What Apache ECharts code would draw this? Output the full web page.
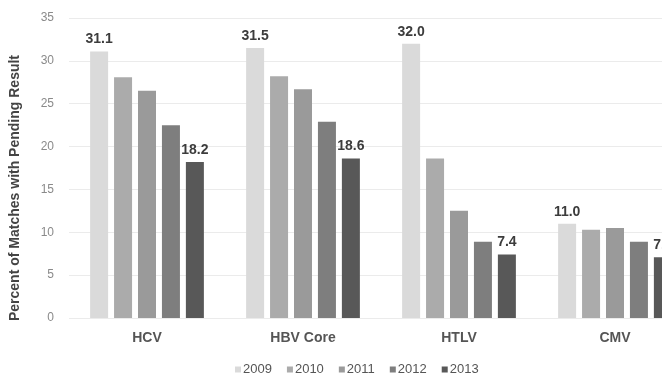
<!DOCTYPE html>
<html>
<head>
<meta charset="utf-8">
<script src="https://cdn.jsdelivr.net/npm/echarts@6/dist/echarts.min.js"></script>
<style>
html,body{margin:0;padding:0;background:#fff;overflow:hidden;width:662px;height:377px;}
#c{width:700px;height:377px;}
</style>
</head>
<body>
<div id="c"></div>
<script>
var categories = ['HCV', 'HBV Core', 'HTLV', 'CMV'];
var years = ['2009', '2010', '2011', '2012', '2013'];
var v2009 = [31.1, 31.5, 32.0, 11.0];
var v2010 = [28.1, 28.2, 18.6, 10.3];
var v2011 = [26.5, 26.7, 12.5, 10.5];
var v2012 = [22.5, 22.9, 8.9, 8.9];
var v2013 = [18.2, 18.6, 7.4, 7.1];
var yTicks = [0, 35, 5];
var yTitle = 'Percent of Matches with Pending Result';
var colors = ['#dadada', '#ababab', '#9a9a9a', '#7e7e7e', '#585858'];

var values = [v2009, v2010, v2011, v2012, v2013];
var labelled = [true, false, false, false, true];

var chart = echarts.init(document.getElementById('c'), null, {renderer: 'canvas'});
var series = years.map(function (y, i) {
  return {
    name: y,
    type: 'bar',
    data: values[i],
    barWidth: 18,
    barGap: '33%',
    itemStyle: {color: colors[i]},
    label: {
      show: labelled[i],
      position: 'top',
      distance: 5,
      formatter: function (p) { return p.value.toFixed(1); },
      fontWeight: 'bold',
      fontSize: 14,
      color: '#3c3c3c'
    }
  };
});

chart.setOption({
  animation: false,
  backgroundColor: '#ffffff',
  textStyle: {fontFamily: 'Liberation Sans, Arial, sans-serif'},
  grid: {left: 69, right: 7, top: 18, bottom: 59, containLabel: false},
  legend: {
    data: years,
    left: 230,
    top: 358,
    icon: 'rect',
    itemWidth: 6,
    itemHeight: 6,
    itemGap: 15,
    textStyle: {fontSize: 13, color: '#555', padding: [0, 0, 0, -3]}
  },
  graphic: [{
    type: 'text',
    x: 15,
    y: 188,
    rotation: Math.PI / 2,
    style: {
      text: yTitle,
      align: 'center',
      verticalAlign: 'middle',
      font: 'bold 14px "Liberation Sans", Arial, sans-serif',
      fill: '#444'
    }
  }],
  xAxis: {
    type: 'category',
    data: categories,
    axisLine: {show: false},
    axisTick: {show: false},
    axisLabel: {
      margin: 13,
      fontSize: 14,
      fontWeight: 'bold',
      color: '#555'
    }
  },
  yAxis: {
    type: 'value',
    min: yTicks[0],
    max: yTicks[1],
    interval: yTicks[2],
    axisLine: {show: false},
    axisTick: {show: false},
    axisLabel: {margin: 15, fontSize: 12, color: '#8a8a8a'},
    splitLine: {lineStyle: {color: '#ebebeb', width: 1}}
  },
  series: series
});
</script>
</body>
</html>
